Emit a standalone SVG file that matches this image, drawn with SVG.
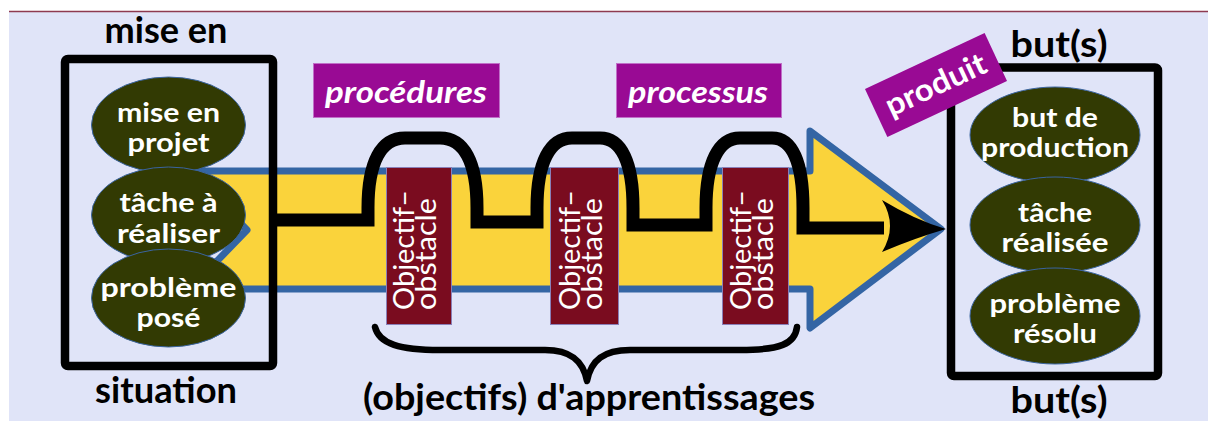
<svg xmlns="http://www.w3.org/2000/svg" width="1208" height="421" viewBox="0 0 1208 421">
<style>
.hdr{font-family:Lato,"Open Sans","Liberation Sans",sans-serif;font-weight:700;font-size:36px;fill:#000;text-anchor:middle}
.ell{fill:#323a03;stroke:#3a64a0;stroke-width:1}
.et{font-family:Lato,"Open Sans","Liberation Sans",sans-serif;font-weight:700;font-size:27px;fill:#fff;text-anchor:middle}
.box{fill:none;stroke:#000;stroke-width:8.5;stroke-linejoin:round}
.obs{fill:#7a0c1f;stroke:#8a7fb8;stroke-width:1}
.ot{font-family:Lato,"Open Sans","Liberation Sans",sans-serif;font-size:28px;fill:#fff}
.lab{fill:#990a94;stroke:#c070c8;stroke-width:1}
.lt{font-family:Lato,"Open Sans","Liberation Sans",sans-serif;font-weight:700;font-style:italic;font-size:31px;fill:#fff;text-anchor:middle}
</style>
<rect x="0" y="0" width="1208" height="421" fill="#fff"/>
<rect x="9" y="12" width="1199" height="409" fill="#e0e4f8"/>
<line x1="9" y1="11.5" x2="1208" y2="11.5" stroke="#8e3a50" stroke-width="1.5"/>

<g id="arrow">
<polygon points="190,171 810,171 810,131 941,229 810,328 810,289 190,289 247,230" fill="#fad33b" stroke="#3465a4" stroke-width="7" stroke-linejoin="round"/>
</g>

<g id="situation">
<rect class="box" x="65" y="59" width="208" height="307" rx="3"/>
<text class="hdr" x="166" y="43" textLength="123" lengthAdjust="spacingAndGlyphs">mise en</text>
<text class="hdr" x="166" y="403" textLength="142" lengthAdjust="spacingAndGlyphs">situation</text>
</g>
<g id="mise-en-projet">
<ellipse class="ell" cx="168.5" cy="125" rx="77" ry="48"/>
<text class="et" x="168.5" y="122" textLength="103" lengthAdjust="spacingAndGlyphs">mise en</text>
<text class="et" x="168.5" y="152" textLength="82" lengthAdjust="spacingAndGlyphs">projet</text>
</g>
<g id="tache-a-realiser">
<ellipse class="ell" cx="168.5" cy="215" rx="77" ry="48"/>
<text class="et" x="168.5" y="212" textLength="98" lengthAdjust="spacingAndGlyphs">tâche à</text>
<text class="et" x="168.5" y="243" textLength="103" lengthAdjust="spacingAndGlyphs">réaliser</text>
</g>
<g id="probleme-pose">
<ellipse class="ell" cx="168.5" cy="298" rx="77" ry="49"/>
<text class="et" x="168.5" y="297" textLength="136" lengthAdjust="spacingAndGlyphs">problème</text>
<text class="et" x="168.5" y="327" textLength="64" lengthAdjust="spacingAndGlyphs">posé</text>
</g>

<g id="connectors">
<path d="M277 220 H368 V208 C368 162 381 138 405 138 H440 C464 138 477 162 477 208 V222 H537 V208 C537 162 550 138 572 138 H600 C621 138 633 162 633 208 V225 H706 V208 C706 162 719 138 740 138 H772 C792 138 803 162 803 208 V228 H884" fill="none" stroke="#000" stroke-width="13" stroke-linejoin="miter"/>
<path d="M882 200 Q915 220 946 229 Q915 238 882 252 Q898 226 882 200 Z" fill="#000"/>
<path d="M375 327 C379 344 400 350 440 350 H545 C570 350 583 360 587 381 C591 360 604 350 630 350 H740 C780 350 795 344 797 327" fill="none" stroke="#000" stroke-width="6.5" stroke-linecap="round" stroke-linejoin="round"/>
</g>

<g id="obstacle1">
<rect class="obs" x="386.5" y="167.5" width="65" height="157"/>
<text class="ot" transform="translate(414,310) rotate(-90)"><tspan x="0" y="0" textLength="120" lengthAdjust="spacingAndGlyphs">Objectif–</tspan><tspan x="0" y="21.5" textLength="112" lengthAdjust="spacingAndGlyphs">obstacle</tspan></text>
</g>
<g id="obstacle2">
<rect class="obs" x="550.5" y="167.5" width="68" height="157"/>
<text class="ot" transform="translate(580,310) rotate(-90)"><tspan x="0" y="0" textLength="120" lengthAdjust="spacingAndGlyphs">Objectif–</tspan><tspan x="0" y="21.5" textLength="112" lengthAdjust="spacingAndGlyphs">obstacle</tspan></text>
</g>
<g id="obstacle3">
<rect class="obs" x="722.5" y="167.5" width="66" height="157"/>
<text class="ot" transform="translate(751,310) rotate(-90)"><tspan x="0" y="0" textLength="120" lengthAdjust="spacingAndGlyphs">Objectif–</tspan><tspan x="0" y="21.5" textLength="112" lengthAdjust="spacingAndGlyphs">obstacle</tspan></text>
</g>

<g id="procedures">
<rect class="lab" x="313.5" y="63.5" width="186" height="54"/>
<text class="lt" x="406" y="103" textLength="162" lengthAdjust="spacingAndGlyphs">procédures</text>
</g>
<g id="processus">
<rect class="lab" x="616.5" y="63.5" width="165" height="54"/>
<text class="lt" x="698" y="103" textLength="140" lengthAdjust="spacingAndGlyphs">processus</text>
</g>

<g id="buts">
<rect class="box" x="951" y="67.5" width="207" height="308.5" rx="3"/>
<text class="hdr" x="1059" y="57" textLength="97" lengthAdjust="spacingAndGlyphs">but(s)</text>
<text class="hdr" x="1059" y="413" textLength="97" lengthAdjust="spacingAndGlyphs">but(s)</text>
</g>
<g id="produit">
<g transform="translate(936,85) rotate(-25)">
<rect x="-66" y="-26.5" width="132" height="53" fill="#990a94"/>
<text class="lt" x="0" y="10" style="font-style:normal" textLength="108" lengthAdjust="spacingAndGlyphs">produit</text>
</g>
</g>
<g id="but-de-production">
<ellipse class="ell" cx="1055" cy="135" rx="85" ry="48"/>
<text class="et" x="1055" y="127" textLength="86" lengthAdjust="spacingAndGlyphs">but de</text>
<text class="et" x="1055" y="157" textLength="148" lengthAdjust="spacingAndGlyphs">production</text>
</g>
<g id="tache-realisee">
<ellipse class="ell" cx="1055" cy="225" rx="85" ry="48"/>
<text class="et" x="1055" y="222" textLength="74" lengthAdjust="spacingAndGlyphs">tâche</text>
<text class="et" x="1055" y="252" textLength="107" lengthAdjust="spacingAndGlyphs">réalisée</text>
</g>
<g id="probleme-resolu">
<ellipse class="ell" cx="1055" cy="316" rx="85" ry="48"/>
<text class="et" x="1055" y="313" textLength="131" lengthAdjust="spacingAndGlyphs">problème</text>
<text class="et" x="1055" y="343" textLength="84" lengthAdjust="spacingAndGlyphs">résolu</text>
</g>

<g id="apprentissages">
<text class="hdr" x="589" y="410" textLength="452" lengthAdjust="spacingAndGlyphs">(objectifs) d'apprentissages</text>
</g>
</svg>
